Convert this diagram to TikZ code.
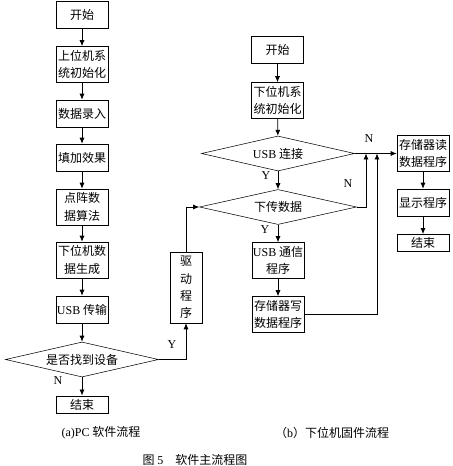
\documentclass[tikz,border=0pt]{standalone}
\usepackage{fontspec}
\setmainfont{Liberation Serif}
\newfontfamily\cjk{Noto Sans CJK SC}
\newfontfamily\lat{Liberation Serif}
\usetikzlibrary{shapes.geometric, arrows.meta}

\begin{document}
\begin{tikzpicture}[x=0.75pt, y=-0.75pt, font=\fontsize{9}{13}\selectfont]
\tikzstyle{box}=[draw, align=center, inner sep=0.5pt, minimum width=39pt, minimum height=20.25pt, font=\cjk\fontsize{9}{13}\selectfont]
\tikzstyle{tallbox}=[box, minimum height=27pt]
\tikzstyle{endbox}=[box, minimum height=13pt]
\tikzstyle{dec}=[draw, diamond, aspect=4.4, inner sep=0pt, minimum width=114.75pt, minimum height=26.25pt, font=\cjk\fontsize{9}{13}\selectfont]
\tikzstyle{flow}=[-{Latex[length=4.5pt, width=3.8pt]}, line width=0.6pt]
\tikzstyle{caption}=[font=\cjk\fontsize{9}{13}\selectfont]
\useasboundingbox (0,0) rectangle (452,466);

% (a) PC side
\node[box] (start1) at (82,14.5) {开始};
\node[tallbox] (init1) at (82,64.5) {上位机系\\统初始化};
\node[box] (input) at (82,113.5) {数据录入};
\node[box] (effect) at (82,157.5) {填加效果};
\node[tallbox] (algo) at (82,207) {点阵数\\据算法};
\node[tallbox] (gen) at (82,260) {下位机数\\据生成};
\node[box] (send) at (82,309.5) {{\lat USB} 传输};
\node[dec] (found) at (82,359.5) {是否找到设备};
\node[endbox] (end1) at (82,404.5) {结束};
\node[box, minimum width=24pt, minimum height=53.25pt] (driver) at (186,287.5) {驱\\动\\程\\序};

% (b) firmware side
\node[box] (start2) at (277.5,50) {开始};
\node[tallbox] (init2) at (277.5,100.5) {下位机系\\统初始化};
\node[dec] (conn) at (278,153.5) {{\lat USB} 连接};
\node[dec, minimum width=117.75pt] (down) at (278,207) {下传数据};
\node[tallbox] (comm) at (278,260.5) {{\lat USB} 通信\\程序};
\node[tallbox] (write) at (278,314.5) {存储器写\\数据程序};
\node[tallbox] (read) at (423,153.5) {存储器读\\数据程序};
\node[box] (disp) at (423,202.5) {显示程序};
\node[endbox] (end2) at (423,243) {结束};
\coordinate (j1) at (366,153.5);
\coordinate (j2) at (377,153.5);

\draw[flow] (start1) -- (init1);
\draw[flow] (init1) -- (input);
\draw[flow] (input) -- (effect);
\draw[flow] (effect) -- (algo);
\draw[flow] (algo) -- (gen);
\draw[flow] (gen) -- (send);
\draw[flow] (send) -- (found);
\draw[flow] (found) -- (end1);
\draw[flow] (found.east) -| (driver.south);
\draw[flow] (driver.north) |- (down.west);

\draw[flow] (start2) -- (init2);
\draw[flow] (init2) -- (conn);
\draw[flow] (conn) -- (down);
\draw[flow] (down) -- (comm);
\draw[flow] (comm) -- (write);
\draw[flow] (conn.east) -- (read.west);
\draw[flow] (down.east) -| (j1);
\draw[flow] (write.east) -| (j2);
\draw[flow] (read) -- (disp);
\draw[flow] (disp) -- (end2);

% branch labels
\node (n1) at (58,381) {N};
\node (y1) at (172,345) {Y};
\node (y2) at (266,176) {Y};
\node (y3) at (265,230) {Y};
\node (n2) at (348,184) {N};
\node (n3) at (369,139) {N};

\node[caption] (capa) at (101,433) {{\lat (a)PC} 软件流程};
\node[caption] (capb) at (332,433) {（{\lat b}）下位机固件流程};
\node[caption] (fig) at (195,460) {图 {\lat 5}\quad 软件主流程图};
\end{tikzpicture}
\end{document}
